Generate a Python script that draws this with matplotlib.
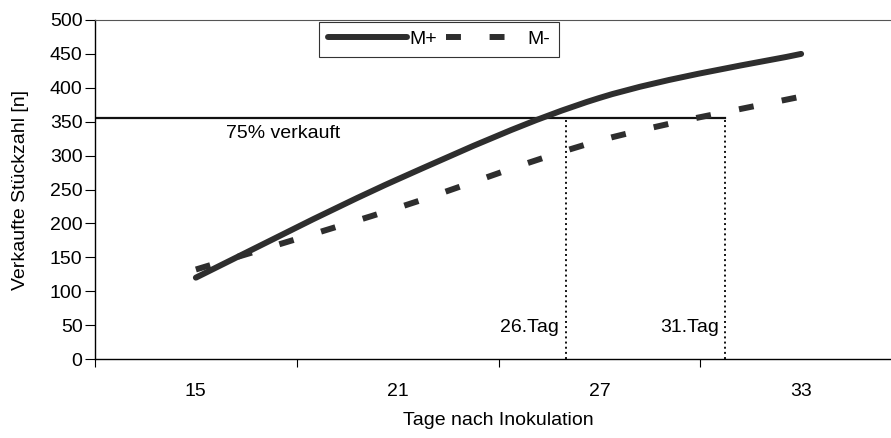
import numpy as np
import matplotlib.pyplot as plt
from matplotlib.path import Path
from matplotlib.patches import PathPatch
from matplotlib.lines import Line2D

plt.rcParams['font.family'] = ['Liberation Sans', 'DejaVu Sans']

# Daten
tage = [15, 21, 27, 33]
m_plus = [120, 265, 385, 450]
m_minus = [132, 223, 322, 387]
schwelle = 356          # 75% verkauft
tag_plus = 26           # Schnittpunkt M+
tag_minus = 30.75       # Schnittpunkt M-
xticks = [15, 21, 27, 33]
yticks = list(range(0, 501, 50))

farbe = '#2e2e2e'
fs = 14


def glatte_linie(x, y, **kw):
    # Excel-artige Glättung: kubische Bezier-Segmente durch die Datenpunkte
    p = np.column_stack([x, y]).astype(float)
    ext = np.vstack([p[0], p, p[-1]])
    verts = [p[0]]
    codes = [Path.MOVETO]
    for i in range(len(p) - 1):
        c1 = ext[i + 1] + (ext[i + 2] - ext[i]) / 6
        c2 = ext[i + 2] - (ext[i + 3] - ext[i + 1]) / 6
        verts += [c1, c2, ext[i + 2]]
        codes += [Path.CURVE4] * 3
    return PathPatch(Path(verts, codes), fill=False, **kw)


fig = plt.figure(figsize=(8.91, 4.38), dpi=100)
ax = fig.add_axes([95 / 891, 79 / 438, 807 / 891, 339 / 438])

ax.add_patch(glatte_linie(tage, m_plus, edgecolor=farbe, lw=4.3,
                          capstyle='round', joinstyle='round', zorder=3))
ax.add_patch(glatte_linie(tage, m_minus, edgecolor=farbe, lw=4.3,
                          linestyle=(0, (2.5, 4.8)), capstyle='butt', zorder=3))

# 75%-Linie und Markierungen
ax.plot([12, tag_minus], [schwelle, schwelle], color='#111111', lw=1.6, zorder=2)
ax.plot([tag_plus, tag_plus], [0, schwelle], color='#111111', lw=1.4, ls=':', zorder=2)
ax.plot([tag_minus, tag_minus], [0, schwelle], color='#111111', lw=1.4, ls=':', zorder=2)

ax.text(15.9, 333, '75% verkauft', fontsize=fs, va='center', ha='left')
ax.text(tag_plus - 0.2, 47, '26.Tag', fontsize=fs, va='center', ha='right')
ax.text(tag_minus - 0.2, 47, '31.Tag', fontsize=fs, va='center', ha='right')

ax.set_xlim(12, 36)
ax.set_ylim(0, 500)
ax.set_yticks(yticks)
ax.set_xticks([12, 18, 24, 30, 36])
ax.set_xticklabels([])
ax.set_xticks(xticks, minor=True)
ax.set_xticklabels([str(t) for t in xticks], minor=True)
ax.tick_params(axis='x', which='minor', length=0, pad=17, labelsize=fs)
ax.tick_params(axis='x', which='major', length=6, width=0.8, direction='out')
ax.tick_params(axis='y', length=7, width=0.8, pad=2, labelsize=fs)

for s in ['top', 'right']:
    ax.spines[s].set_color('#555555')
    ax.spines[s].set_linewidth(0.8)
ax.spines['left'].set_linewidth(1.0)
ax.spines['bottom'].set_linewidth(1.0)

ax.set_ylabel('Verkaufte Stückzahl [n]', fontsize=fs, labelpad=15)
ax.set_xlabel('Tage nach Inokulation', fontsize=fs, labelpad=9)

handles = [Line2D([], [], color=farbe, lw=4.3, solid_capstyle='round'),
           Line2D([], [], color=farbe, lw=4.3, linestyle=(0, (2.5, 4.8)),
                  dash_capstyle='butt')]
leg = ax.legend(handles, ['M+', 'M-'], ncol=2, fontsize=fs,
                loc='upper left', bbox_to_anchor=(222 / 807, 1.0),
                frameon=True, fancybox=False, framealpha=1, edgecolor='#333333',
                handlelength=4.1, handletextpad=0.1, columnspacing=0.45,
                borderpad=0.45, borderaxespad=0.1)
leg.get_frame().set_linewidth(0.8)

fig.savefig('out.png', dpi=100)
